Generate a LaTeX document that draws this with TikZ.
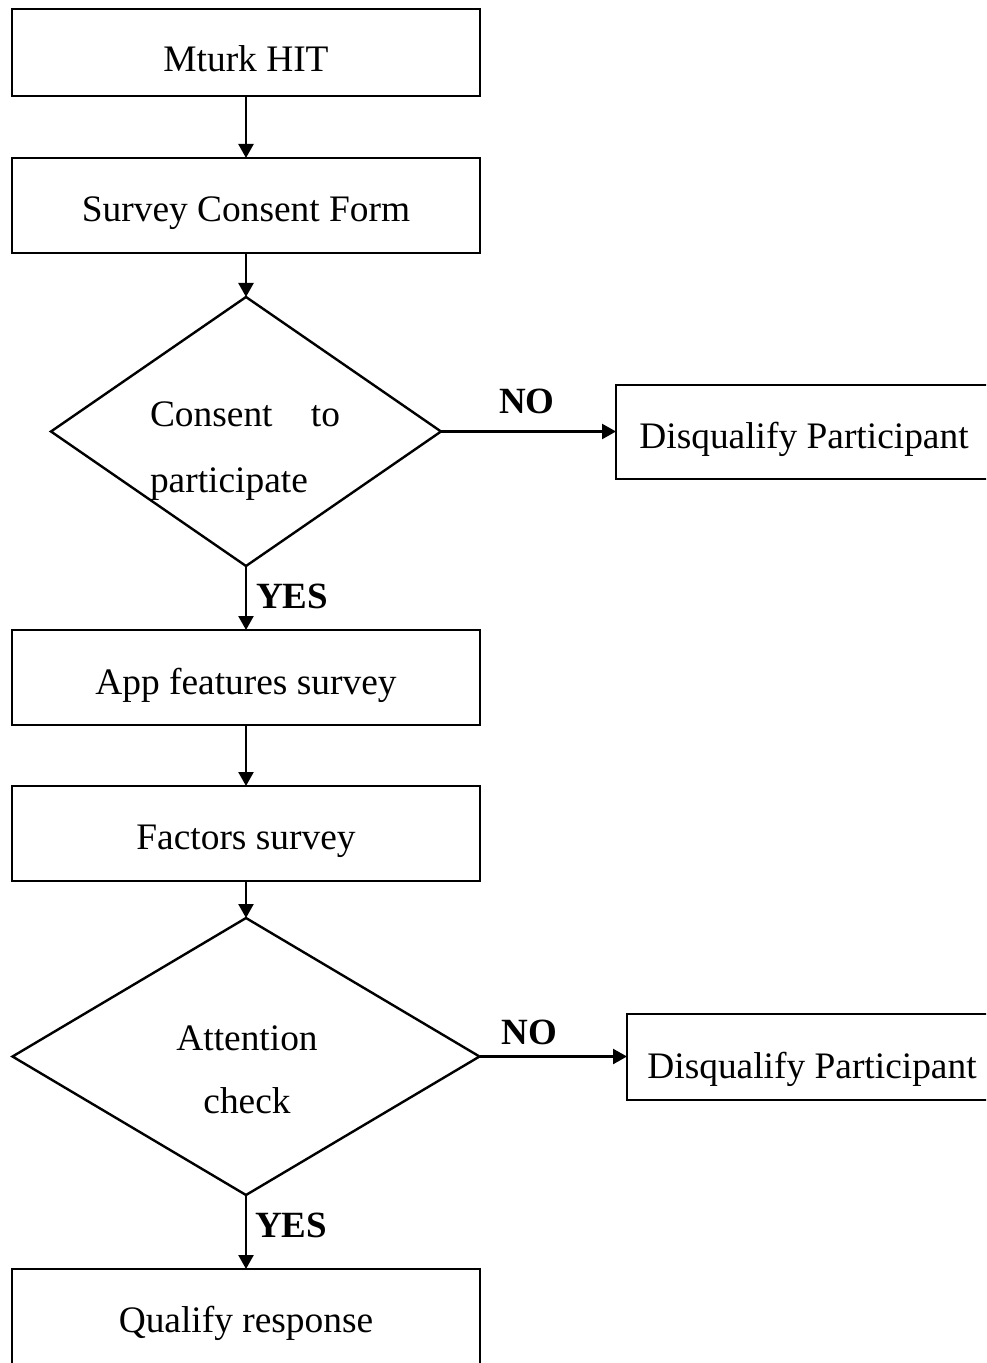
\documentclass[tikz,border=0pt]{standalone}
\usepackage{fontspec}
\setmainfont{Liberation Serif}
\usetikzlibrary{shapes.geometric,arrows.meta}

\begin{document}
\begin{tikzpicture}[
  x=0.5pt, y=-0.5pt,
  every node/.style={font=\fontsize{18.7pt}{22pt}\selectfont, outer sep=0pt},
  stepbox/.style={draw, line width=1.4pt, inner sep=0pt, text depth=0pt,
    minimum width=234pt, minimum height=47.5pt, text height=16.5pt},
  decision/.style={draw, line width=1.2pt, diamond, inner sep=0pt},
  flow/.style={line width=1.2pt, -{Triangle[length=7pt,width=7.5pt]}},
  answer/.style={font=\fontsize{18.5pt}{22pt}\selectfont\bfseries, inner sep=0pt}
]
\path[use as bounding box] (0,0) rectangle (986,1363);
\clip (0,0) rectangle (986,1363);

% main column
\node[stepbox, minimum height=43.5pt, text height=19.5pt] (hit) at (246,52.5) {Mturk HIT};
\node[stepbox] (form) at (246,205.5) {Survey Consent Form};
\node[decision, minimum width=195pt, minimum height=134.5pt] (consent) at (246,431.5) {};
\node[anchor=base west, inner sep=0pt] (consentA) at (150,427) {\hbox to 95pt{Consent\hfill to}};
\node[anchor=base west, inner sep=0pt] (consentB) at (150,492) {participate};
\node[stepbox] (app) at (246,677.5) {App features survey};
\node[stepbox, text height=15.5pt] (factors) at (246,833.5) {Factors survey};
\node[decision, minimum width=233.5pt, minimum height=138.5pt] (attn) at (246,1056.5) {};
\node[anchor=base, inner sep=0pt] (attnA) at (247,1050) {Attention};
\node[anchor=base, inner sep=0pt] (attnB) at (247,1113) {check};
\node[stepbox, minimum height=50pt, text height=13pt] (qualify) at (246,1319) {Qualify response};

% rejection branch
\node[stepbox, minimum width=188pt, minimum height=47pt, text height=16pt] (drop1) at (804,432) {Disqualify Participant};
\node[stepbox, minimum width=185pt, minimum height=43pt, text height=21pt] (drop2) at (812,1057) {Disqualify Participant};

% connectors
\draw[flow] (hit.south) -- (form.north);
\draw[flow] (form.south) -- (consent.north);
\draw[flow] (consent.south) -- (app.north)
  node[answer, pos=0.66, anchor=base west, xshift=5pt] (yes1) {YES};
\draw[flow] (app.south) -- (factors.north);
\draw[flow] (factors.south) -- (attn.north);
\draw[flow] (attn.south) -- (qualify.north)
  node[answer, pos=0.58, anchor=base west, xshift=4.5pt] (yes2) {YES};
\draw[flow] (consent.east) -- (consent.east -| drop1.west)
  node[answer, pos=0.49, anchor=base, yshift=9pt] (no1) {NO};
\draw[flow] (attn.east) -- (attn.east -| drop2.west)
  node[answer, pos=0.34, anchor=base, yshift=6pt] (no2) {NO};
\end{tikzpicture}
\end{document}
